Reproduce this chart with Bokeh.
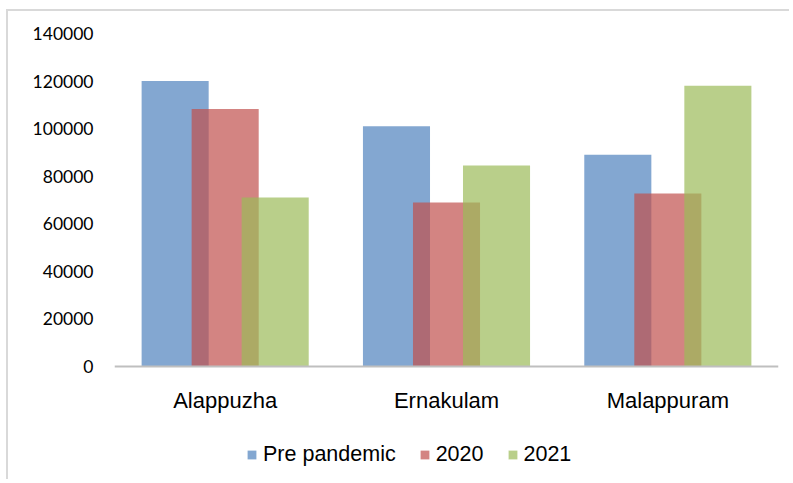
from bokeh.plotting import figure
from bokeh.models import (ColumnDataSource, FactorRange, Range1d, FixedTicker,
                          NumeralTickFormatter, Legend, LegendItem)
from bokeh.transform import dodge
from bokeh.embed import file_html
from bokeh.resources import INLINE

districts = ["Alappuzha", "Ernakulam", "Malappuram"]
pre_pandemic = [120000, 101000, 89000]
y2020 = [108300, 69000, 72700]
y2021 = [71000, 84500, 118000]
series_labels = ["Pre pandemic", "2020", "2021"]
y_ticks = [0, 20000, 40000, 60000, 80000, 100000, 120000, 140000]

colors = ["#4F81BD", "#C0504D", "#9BBB59"]

src = ColumnDataSource(dict(district=districts, pre=pre_pandemic,
                            y2020=y2020, y2021=y2021))

# the frame extends below 0 so that the category labels and legend sit inside it
p = figure(x_range=FactorRange(*districts), y_range=Range1d(-47087, 140000),
           width=783, height=470, output_backend="svg", toolbar_location=None,
           min_border_left=106, min_border_right=13, min_border_top=22,
           min_border_bottom=3)
p.styles = {"border-left": "2px solid #d9d9d9", "border-top": "2px solid #d9d9d9",
            "margin-left": "6px", "margin-top": "9px"}
p.outline_line_color = None
p.xgrid.visible = False
p.ygrid.visible = False
p.background_fill_color = "white"
p.border_fill_color = "white"

renderers = []
for col, off, c in zip(["pre", "y2020", "y2021"], [-0.226, 0.0, 0.226], colors):
    r = p.vbar(x=dodge("district", off, range=p.x_range), top=col, width=0.303,
               source=src, fill_color=c, fill_alpha=0.7, line_color=None)
    renderers.append(r)

# y axis
p.yaxis.ticker = FixedTicker(ticks=y_ticks)
p.yaxis.formatter = NumeralTickFormatter(format="0")
p.yaxis.axis_line_color = None
p.yaxis.major_tick_line_color = None
p.yaxis.minor_tick_line_color = None
p.yaxis.major_tick_out = 0
p.yaxis.major_label_standoff = 21
p.yaxis.major_label_text_font = "Lato"
p.yaxis.major_label_text_font_size = "17.5px"
p.yaxis.major_label_text_color = "black"

# x axis (placed at value 0)
p.xaxis.fixed_location = 0
p.xaxis.axis_line_color = "#bfbfbf"
p.xaxis.axis_line_width = 2
p.xaxis.major_tick_line_color = None
p.xaxis.minor_tick_line_color = None
p.xaxis.major_tick_out = 0
p.xaxis.major_label_standoff = 21
p.xaxis.major_label_text_font = "Liberation Sans"
p.xaxis.major_label_text_font_size = "22px"
p.xaxis.major_label_text_color = "black"

legend = Legend(items=[LegendItem(label=l, renderers=[r]) for l, r in zip(series_labels, renderers)],
                location=(132, 11), orientation="horizontal",
                glyph_width=11, glyph_height=11, label_standoff=6, spacing=23,
                padding=0, margin=0, border_line_color=None,
                background_fill_alpha=0,
                label_text_font="Liberation Sans", label_text_font_size="21.5px",
                label_text_color="black", label_height=20)
p.add_layout(legend, "center")

open("out.html", "w").write(file_html(p, INLINE))
